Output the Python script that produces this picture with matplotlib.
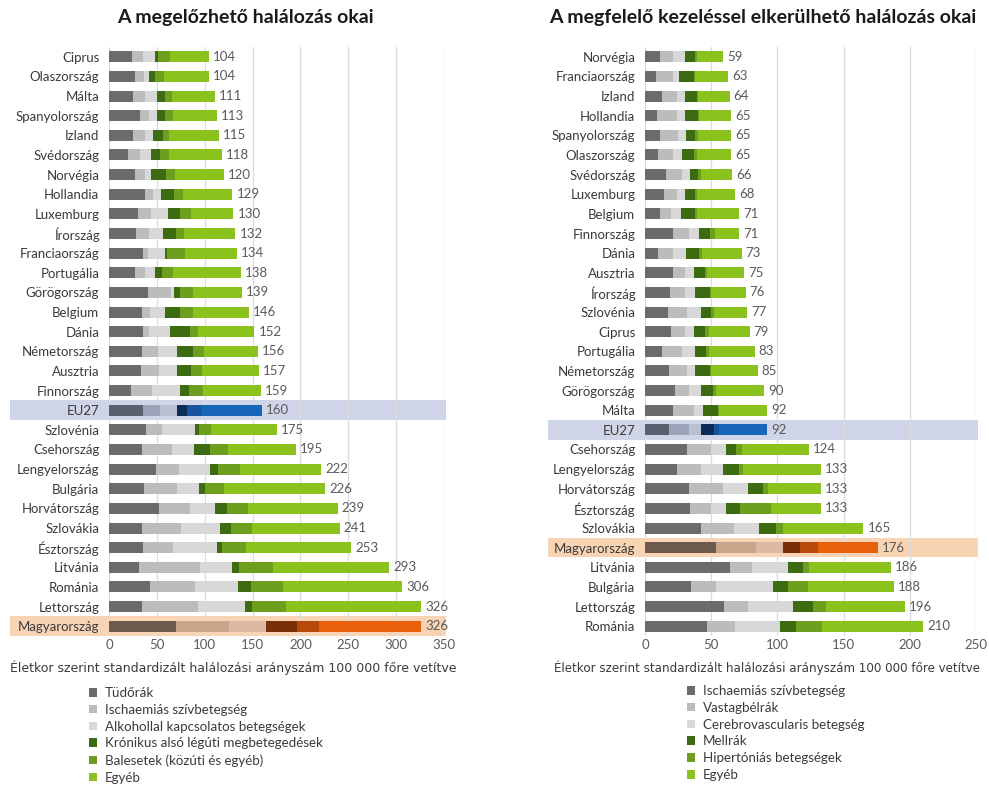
import matplotlib
matplotlib.use("Agg")
import matplotlib.pyplot as plt
from matplotlib.patches import Patch, Rectangle
import numpy as np

plt.rcParams['font.family'] = ['Lato', 'DejaVu Sans']

# ---------------- Left chart data ----------------
left_title = "A megelőzhető halálozás okai"
left_countries = ["Ciprus", "Olaszország", "Málta", "Spanyolország", "Izland", "Svédország",
                  "Norvégia", "Hollandia", "Luxemburg", "Írország", "Franciaország", "Portugália",
                  "Görögország", "Belgium", "Dánia", "Németország", "Ausztria", "Finnország",
                  "EU27", "Szlovénia", "Csehország", "Lengyelország", "Bulgária", "Horvátország",
                  "Szlovákia", "Észtország", "Litvánia", "Románia", "Lettország", "Magyarország"]
left_series = ["Tüdőrák", "Ischaemiás szívbetegség", "Alkohollal kapcsolatos betegségek",
               "Krónikus alsó légúti megbetegedések", "Balesetek (közúti és egyéb)", "Egyéb"]
left_tudorak = [24, 27, 25, 32, 25, 20, 27, 38, 30, 28, 36, 27, 41, 34, 35, 34, 33, 23,
                36, 39, 34, 49, 37, 52, 34, 35, 31, 43, 34, 70]
left_ischaemias = [12, 10, 13, 10, 13, 12, 11, 8, 14, 14, 5, 11, 24, 9, 7, 17, 19, 22,
                   17, 16, 32, 24, 34, 33, 41, 32, 64, 47, 59, 55]
left_alkohol = [12, 5, 12, 8, 8, 12, 6, 8, 18, 14, 17, 10, 3, 16, 22, 20, 19, 29,
                18, 35, 23, 32, 23, 26, 41, 46, 33, 45, 49, 39]
left_kronikus = [3, 6, 8, 8, 10, 9, 16, 14, 12, 14, 3, 7, 6, 15, 21, 17, 15, 10,
                 10, 4, 16, 9, 6, 12, 11, 5, 8, 13, 7, 32]
left_balesetek = [13, 9, 8, 9, 7, 10, 9, 9, 12, 8, 18, 12, 14, 14, 8, 11, 11, 14,
                  15, 13, 19, 23, 20, 22, 22, 25, 35, 34, 36, 23]
left_egyeb = [40, 47, 45, 46, 52, 55, 51, 52, 44, 54, 55, 71, 51, 58, 59, 57, 60, 61,
              64, 68, 71, 85, 106, 94, 92, 110, 122, 124, 141, 107]
left_totals = [104, 104, 111, 113, 115, 118, 120, 129, 130, 132, 134, 138, 139, 146, 152,
               156, 157, 159, 160, 175, 195, 222, 226, 239, 241, 253, 293, 306, 326, 326]
left_ticks = [0, 50, 100, 150, 200, 250, 300, 350]

# ---------------- Right chart data ----------------
right_title = "A megfelelő kezeléssel elkerülhető halálozás okai"
right_countries = ["Norvégia", "Franciaország", "Izland", "Hollandia", "Spanyolország", "Olaszország",
                   "Svédország", "Luxemburg", "Belgium", "Finnország", "Dánia", "Ausztria",
                   "Írország", "Szlovénia", "Ciprus", "Portugália", "Németország", "Görögország",
                   "Málta", "EU27", "Csehország", "Lengyelország", "Horvátország", "Észtország",
                   "Szlovákia", "Magyarország", "Litvánia", "Bulgária", "Lettország", "Románia"]
right_series = ["Ischaemiás szívbetegség", "Vastagbélrák", "Cerebrovascularis betegség",
                "Mellrák", "Hipertóniás betegségek", "Egyéb"]
right_ischaemias = [11, 8, 13, 9, 11, 10, 16, 14, 11, 21, 10, 21, 19, 17, 20, 13, 18, 23,
                    21, 18, 32, 24, 33, 34, 42, 54, 64, 35, 60, 47]
right_vastagbel = [10, 13, 11, 15, 14, 11, 12, 10, 9, 12, 11, 9, 11, 15, 10, 15, 14, 10,
                   16, 15, 18, 18, 26, 16, 25, 30, 17, 19, 18, 21]
right_cerebro = [9, 5, 6, 6, 6, 7, 6, 6, 7, 8, 10, 7, 8, 10, 7, 10, 6, 9,
                 7, 9, 11, 17, 19, 11, 19, 20, 27, 43, 34, 34]
right_mellrak = [8, 11, 9, 10, 7, 9, 6, 8, 11, 8, 10, 8, 11, 8, 8, 8, 11, 9,
                 11, 10, 8, 12, 11, 11, 13, 13, 11, 11, 15, 12]
right_hipertonia = [1, 1, 1, 1, 2, 2, 2, 1, 1, 4, 2, 2, 1, 2, 3, 2, 1, 3,
                    1, 4, 4, 3, 4, 23, 5, 14, 5, 15, 10, 20]
right_egyeb = [20, 25, 24, 24, 25, 26, 24, 29, 32, 18, 30, 28, 26, 25, 31, 35, 35, 36,
               36, 36, 51, 59, 40, 38, 61, 45, 62, 65, 59, 76]
right_totals = [59, 63, 64, 65, 65, 65, 66, 68, 71, 71, 73, 75, 76, 77, 79, 83, 85, 90,
                92, 92, 124, 133, 133, 133, 165, 176, 186, 188, 196, 210]
right_ticks = [0, 50, 100, 150, 200, 250]

xlabel_text = "Életkor szerint standardizált halálozási arányszám 100 000 főre vetítve"

# ---------------- styles ----------------
normal_colors = ["#6b6b6b", "#bcbcbc", "#d8d8d8", "#3d6b12", "#6d9e1e", "#8cc21d"]
eu_colors = ["#5b606e", "#9ba4b8", "#b8c0d2", "#0b2c55", "#17549d", "#1766b8"]
hu_colors = ["#6d5a4f", "#c8a48b", "#dcb9a0", "#7a2e05", "#b8480c", "#e9600a"]
eu_band = "#cfd5e7"
hu_band = "#f8d3b4"
text_col = "#3a3a3a"
gray_text = "#5a5a5a"

W, H = 989, 785
fig = plt.figure(figsize=(W / 100, H / 100), dpi=100)


def draw(ax_rect, countries, series_vals, totals, ticks, xmax, title, title_x, band_x0, band_x1):
    ax = fig.add_axes(ax_rect)
    n = len(countries)
    y = np.arange(n)
    ax.set_xlim(0, xmax)
    ax.set_ylim(n - 0.5, -0.5)
    for i, c in enumerate(countries):
        if c == "EU27" or c == "Magyarország":
            col = eu_band if c == "EU27" else hu_band
            ax.add_patch(Rectangle((band_x0 * xmax, i - 0.5), (band_x1 - band_x0) * xmax, 1.0,
                                   facecolor=col, edgecolor="none", clip_on=False, zorder=0))
    for t in ticks:
        ax.axvline(t, color="#dcdcdc", lw=0.9, zorder=1)
    left = np.zeros(n)
    for k, vals in enumerate(series_vals):
        vals = np.array(vals, dtype=float)
        cols = []
        for c in countries:
            if c == "EU27":
                cols.append(eu_colors[k])
            elif c == "Magyarország":
                cols.append(hu_colors[k])
            else:
                cols.append(normal_colors[k])
        ax.barh(y, vals, left=left, height=0.56, color=cols, edgecolor="none", zorder=2)
        left += vals
    for i, tot in enumerate(totals):
        ax.text(tot + xmax * 0.012, i, str(tot), va="center", ha="left", fontsize=9.5,
                color=gray_text, zorder=3)
    ax.set_yticks(y)
    ax.set_yticklabels(countries, fontsize=9.5, color=text_col)
    ax.set_xticks(ticks)
    ax.set_xticklabels([str(t) for t in ticks], fontsize=9.5, color=gray_text)
    ax.tick_params(axis="both", length=0)
    ax.tick_params(axis="y", pad=7)
    ax.tick_params(axis="x", pad=2)
    for s in ax.spines.values():
        s.set_visible(False)
    fig.text(title_x, 1 - 18 / H, title, ha="center", va="center", fontsize=14,
             fontweight="bold", color="#1a1a1a")
    return ax


left_vals = [left_tudorak, left_ischaemias, left_alkohol, left_kronikus, left_balesetek, left_egyeb]
right_vals = [right_ischaemias, right_vastagbel, right_cerebro, right_mellrak, right_hipertonia, right_egyeb]

axL = draw([109 / W, 1 - 636 / H, 335 / W, 589 / H], left_countries, left_vals, left_totals,
           left_ticks, 350, left_title, 245 / W, -0.296, 1.006)
axR = draw([645 / W, 1 - 636 / H, 331 / W, 589 / H], right_countries, right_vals, right_totals,
           right_ticks, 250, right_title, 763 / W, -0.293, 1.006)

fig.text(233 / W, 1 - 668 / H, xlabel_text, ha="center", va="center", fontsize=9.0,
         color=text_col, family=["DejaVu Sans"])
fig.text(767 / W, 1 - 668 / H, xlabel_text, ha="center", va="center", fontsize=8.6,
         color=text_col, family=["DejaVu Sans"])

hl = [Patch(facecolor=c, edgecolor="none") for c in normal_colors]
fig.legend(hl, left_series, loc="upper left", bbox_to_anchor=(89 / W, 1 - 687 / H), frameon=False,
           fontsize=9.6, handlelength=0.6, handleheight=0.6, handletextpad=0.6,
           labelspacing=0.36, borderpad=0, borderaxespad=0, labelcolor=text_col)
fig.legend(hl, right_series, loc="upper left", bbox_to_anchor=(687 / W, 1 - 685 / H), frameon=False,
           fontsize=9.6, handlelength=0.6, handleheight=0.6, handletextpad=0.6,
           labelspacing=0.36, borderpad=0, borderaxespad=0, labelcolor=text_col)

fig.savefig("out.png", dpi=100, facecolor="white")
